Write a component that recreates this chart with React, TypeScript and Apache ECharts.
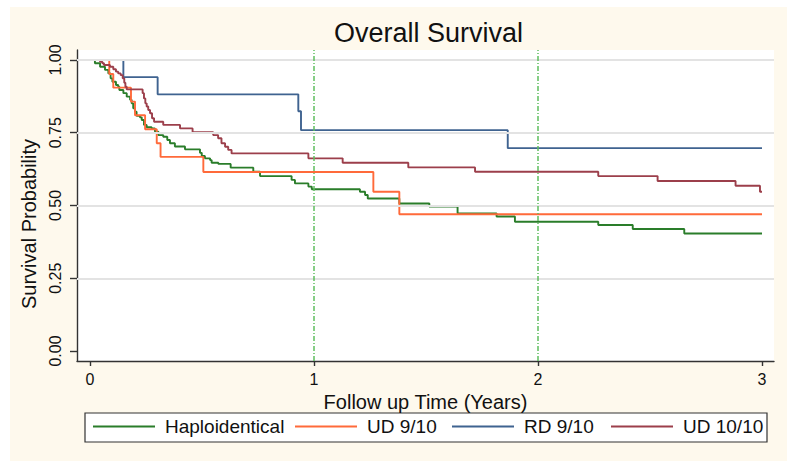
import React, { useEffect, useRef } from "react";
import * as echarts from "echarts";

// ---------- data ----------
const seriesNames = ["Haploidentical", "UD 9/10", "RD 9/10", "UD 10/10"];
const seriesColors = ["#2a7d2a", "#ff6a3a", "#3f6390", "#9c3f4b"];

const xTicks = [0, 1, 2, 3];
const yTicks = [0, 0.25, 0.5, 0.75, 1];
const gridYValues = [0.25, 0.5, 0.75, 1];
const refXValues = [1, 2];

const haploTimes = [0, 0.022, 0.045, 0.067, 0.082, 0.092, 0.1, 0.116, 0.126, 0.131, 0.149, 0.164, 0.179, 0.186, 0.193, 0.201, 0.208, 0.223, 0.231, 0.241, 0.253, 0.275, 0.29, 0.305, 0.327, 0.345, 0.357, 0.379, 0.424, 0.491, 0.499, 0.513, 0.536, 0.543, 0.573, 0.628, 0.729, 0.759, 0.9, 0.915, 0.975, 0.99, 1.205, 1.228, 1.24, 1.381, 1.515, 1.641, 1.815, 1.897, 2.269, 2.423, 2.653, 3.0];
const haploSurv = [1, 0.989, 0.977, 0.966, 0.954, 0.937, 0.925, 0.914, 0.908, 0.897, 0.886, 0.874, 0.863, 0.851, 0.834, 0.822, 0.808, 0.803, 0.794, 0.777, 0.769, 0.765, 0.754, 0.742, 0.736, 0.725, 0.714, 0.703, 0.693, 0.681, 0.67, 0.662, 0.656, 0.647, 0.643, 0.63, 0.616, 0.601, 0.588, 0.576, 0.565, 0.556, 0.547, 0.536, 0.524, 0.507, 0.496, 0.473, 0.462, 0.444, 0.433, 0.419, 0.404, 0.404];

const ud9Times = [0, 0.086, 0.104, 0.183, 0.201, 0.246, 0.298, 0.315, 0.506, 1.265, 1.381, 3.0];
const ud9Surv = [1, 0.952, 0.905, 0.857, 0.81, 0.762, 0.714, 0.667, 0.615, 0.547, 0.47, 0.47];

const rd9Times = [0, 0.149, 0.302, 0.93, 0.942, 1.865, 3.0];
const rd9Surv = [1, 0.941, 0.882, 0.824, 0.759, 0.697, 0.697];

const ud10Times = [0, 0.045, 0.055, 0.0625, 0.089, 0.104, 0.116, 0.126, 0.137, 0.146, 0.153, 0.158, 0.164, 0.235, 0.241, 0.247, 0.253, 0.26, 0.268, 0.277, 0.286, 0.327, 0.402, 0.458, 0.55, 0.572, 0.587, 0.603, 0.617, 0.632, 0.975, 1.128, 1.421, 1.719, 2.269, 2.534, 2.882, 2.991, 3.0];
const ud10Surv = [1, 0.994, 0.989, 0.983, 0.977, 0.968, 0.96, 0.954, 0.948, 0.937, 0.922, 0.908, 0.899, 0.886, 0.868, 0.851, 0.84, 0.828, 0.817, 0.8, 0.788, 0.777, 0.765, 0.752, 0.742, 0.731, 0.714, 0.702, 0.691, 0.679, 0.662, 0.647, 0.631, 0.616, 0.601, 0.584, 0.568, 0.547, 0.547];

const allTimes = [haploTimes, ud9Times, rd9Times, ud10Times];
const allSurv = [haploSurv, ud9Surv, rd9Surv, ud10Surv];

// ---------- layout ----------
const FONT = "'Liberation Sans', Arial, Helvetica, sans-serif";
const TEXT = "#111111";
const legendLefts = [83, 285, 442, 601];

export default function App() {
  const ref = useRef<HTMLDivElement>(null);

  useEffect(() => {
    if (!ref.current) return;
    const chart = echarts.init(ref.current, undefined, { renderer: "svg" });

    const curveSeries = seriesNames.map((name, i) => ({
      type: "line",
      name,
      step: "end",
      showSymbol: false,
      symbol: "none",
      silent: true,
      z: 3,
      data: allTimes[i].map((t, k) => [t, allSurv[i][k]]),
      lineStyle: { color: seriesColors[i], width: 1.9 },
      itemStyle: { color: seriesColors[i] },
    }));

    const option = {
      animation: false,
      backgroundColor: "#fef9ed",
      title: {
        text: "Overall Survival",
        left: 324,
        top: 12,
        padding: 0,
        textStyle: { fontFamily: FONT, fontSize: 27, fontWeight: "normal", color: TEXT },
      },
      grid: {
        left: 67,
        right: 13,
        top: 43,
        bottom: 100,
        show: true,
        backgroundColor: "#ffffff",
        borderWidth: 0,
      },
      xAxis: {
        type: "value",
        min: -0.058,
        max: 3.0536,
        name: "Follow up Time (Years)",
        nameLocation: "middle",
        nameGap: 23,
        nameTextStyle: { fontFamily: FONT, fontSize: 20, color: TEXT },
        axisLine: { show: true, onZero: false, lineStyle: { color: "#333", width: 1.4 } },
        axisTick: { show: true, length: 5, customValues: xTicks, lineStyle: { color: "#333", width: 1.4 } },
        axisLabel: {
          customValues: xTicks,
          margin: 10,
          fontFamily: FONT,
          fontSize: 16,
          color: TEXT,
          formatter: (v: number) => String(v),
        },
        splitLine: { show: false },
      },
      yAxis: {
        type: "value",
        min: -0.03436,
        max: 1.03436,
        name: "Survival Probability",
        nameLocation: "middle",
        nameGap: 27,
        nameTextStyle: { fontFamily: FONT, fontSize: 20, color: TEXT, padding: [0, 37, 0, 0] },
        axisLine: { show: true, onZero: false, lineStyle: { color: "#333", width: 1.4 } },
        axisTick: { show: true, length: 7, customValues: yTicks, lineStyle: { color: "#333", width: 1.4 } },
        axisLabel: {
          customValues: yTicks,
          rotate: 90,
          margin: 14,
          fontFamily: FONT,
          fontSize: 16,
          color: TEXT,
          formatter: (v: number) => v.toFixed(2),
        },
        splitLine: { show: false },
      },
      legend: seriesNames.map((n, i) => ({
        data: [n],
        left: legendLefts[i],
        top: 410,
        icon: "rect",
        itemWidth: 62,
        itemHeight: 2,
        itemGap: 0,
        padding: 0,
        selectedMode: false,
        textStyle: { fontFamily: FONT, fontSize: 19, color: TEXT, padding: [0, 0, 0, 5] },
      })),
      graphic: [
        {
          type: "rect",
          z: 0,
          shape: { x: 75, y: 406, width: 682, height: 29 },
          style: { fill: "#ffffff", stroke: "#333", lineWidth: 1.2 },
        },
      ],
      series: [
        {
          type: "line",
          name: "__grid",
          data: [],
          z: 1,
          silent: true,
          markLine: {
            silent: true,
            symbol: ["none", "none"],
            label: { show: false },
            data: [
              ...gridYValues.map((v) => ({ yAxis: v, lineStyle: { color: "#e3e3e3", width: 2, type: "solid" } })),
              ...refXValues.map((v) => ({ xAxis: v, lineStyle: { color: "#5fbf5f", width: 1.5, type: [5, 2, 1, 2] } })),
            ],
          },
        },
        ...curveSeries,
      ],
    };

    chart.setOption(option as any);
    return () => chart.dispose();
  }, []);

  return (
    <div
      ref={ref}
      style={{ position: "fixed", left: 10, top: 7, width: 777, height: 454 }}
    />
  );
}
